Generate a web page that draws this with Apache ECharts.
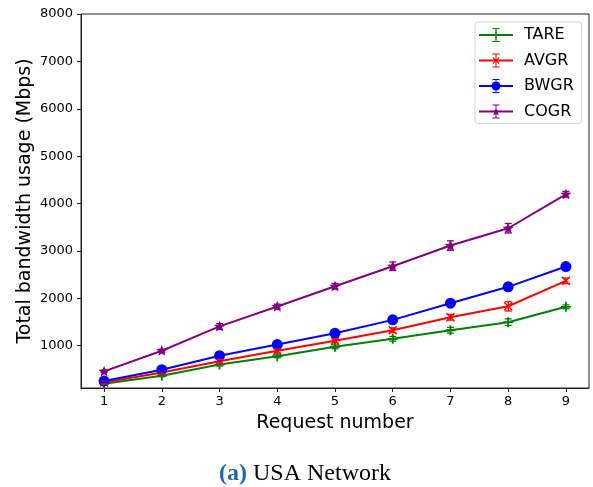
<!DOCTYPE html>
<html>
<head>
<meta charset="utf-8">
<script src="https://cdn.jsdelivr.net/npm/echarts@6/dist/echarts.min.js"></script>
<style>
  html, body { margin: 0; padding: 0; background: #fff; }
  #chart { width: 593px; height: 487px; }
</style>
</head>
<body>
<div id="chart"></div>
<script>
// Request numbers on the x axis
const requests = [1, 2, 3, 4, 5, 6, 7, 8, 9];

// Mean total bandwidth usage (Mbps) per algorithm
const tare = [200, 367, 603, 778, 977, 1146, 1327, 1496, 1821];
const avgr = [225, 437, 673, 892, 1103, 1327, 1601, 1833, 2369];
const bwgr = [255, 495, 789, 1025, 1264, 1546, 1897, 2243, 2671];
const cogr = [460, 895, 1408, 1827, 2255, 2677, 3114, 3479, 4196];

// Half-widths of the error bars (Mbps)
const tareErr = [20, 20, 30, 30, 40, 50, 60, 70, 40];
const avgrErr = [30, 30, 40, 40, 40, 50, 60, 100, 60];
const bwgrErr = [30, 30, 40, 40, 40, 40, 50, 80, 50];
const cogrErr = [20, 30, 60, 50, 60, 90, 100, 100, 60];

// Tick labels
const yTicks = [1000, 2000, 3000, 4000, 5000, 6000, 7000, 8000];
const xTicks = [1, 2, 3, 4, 5, 6, 7, 8, 9];

const FONT = 'DejaVu Sans';

// Marker shapes (filled paths)
function starPath(cx, cy, ro, ri) {
  let d = '';
  for (let i = 0; i < 10; i++) {
    const r = i % 2 === 0 ? ro : ri;
    const a = -Math.PI / 2 + i * Math.PI / 5;
    const x = (cx + r * Math.cos(a)).toFixed(3);
    const y = (cy + r * Math.sin(a)).toFixed(3);
    d += (i === 0 ? 'M' : 'L') + x + ' ' + y + ' ';
  }
  return d + 'Z';
}
const plusMarker = 'path://M0 4.1H10V5.9H0Z M4.1 0H5.9V10H4.1Z';
const crossMarker = 'path://M0 1.1L1.1 0L10 8.9L8.9 10Z M8.9 0L10 1.1L1.1 10L0 8.9Z';
const starMarker = 'path://' + starPath(5, 5.26, 5, 2.1) + ' M0 0H0.001V0.001Z M10 10H10.001V10.001Z';

// Legend icons: line + error bar + marker, drawn in a 34x14 box
const base = 'M0 6.1H34V7.9H0Z M16.5 0H17.5V14H16.5Z M13.5 0H20.5V1H13.5Z M13.5 13H20.5V14H13.5Z ';
const iconPlus = 'path://' + base + 'M12.5 6.2H21.5V7.8H12.5Z M16.2 2.5H17.8V11.5H16.2Z';
const iconCross = 'path://' + base + 'M13.5 4.2L14.2 3.5L20.5 9.8L19.8 10.5Z M19.8 3.5L20.5 4.2L14.2 10.5L13.5 9.8Z';
const iconCircle = 'path://' + base + 'M21.5 7A4.5 4.5 0 1 1 12.5 7A4.5 4.5 0 1 1 21.5 7Z';
const iconStar = 'path://' + base + starPath(17, 7.3, 4.6, 1.9);

const palette = {
  TARE: '#008000',
  AVGR: '#ff0000',
  BWGR: '#0000ff',
  COGR: '#800080'
};

function lineSeries(name, values, symbol, size) {
  return {
    name: name,
    type: 'line',
    data: requests.map((r, i) => [r, values[i]]),
    symbol: symbol,
    symbolSize: size,
    showAllSymbol: true,
    lineStyle: { color: palette[name], width: 2 },
    itemStyle: { color: palette[name] },
    z: 3
  };
}

function errorSeries(name, values, errs) {
  return {
    name: name + ' error',
    type: 'custom',
    data: requests.map((r, i) => [r, values[i] - errs[i], values[i] + errs[i]]),
    encode: { x: 0, y: [1, 2] },
    z: 4,
    silent: true,
    renderItem: function (params, api) {
      const x = api.value(0);
      const lo = api.coord([x, api.value(1)]);
      const hi = api.coord([x, api.value(2)]);
      const cap = 3.5;
      const style = { stroke: palette[name], lineWidth: 1.3 };
      return {
        type: 'group',
        children: [
          { type: 'line', shape: { x1: lo[0], y1: lo[1], x2: hi[0], y2: hi[1] }, style: style },
          { type: 'line', shape: { x1: lo[0] - cap, y1: lo[1], x2: lo[0] + cap, y2: lo[1] }, style: style },
          { type: 'line', shape: { x1: hi[0] - cap, y1: hi[1], x2: hi[0] + cap, y2: hi[1] }, style: style }
        ]
      };
    }
  };
}

const chart = echarts.init(document.getElementById('chart'), null, { renderer: 'canvas' });

chart.setOption({
  animation: false,
  backgroundColor: '#fff',
  textStyle: { fontFamily: FONT },
  grid: {
    left: 81, right: 4, top: 14, bottom: 99,
    show: true, borderColor: '#222', borderWidth: 1, backgroundColor: 'transparent'
  },
  xAxis: {
    type: 'value',
    min: 0.6,
    max: 9.4,
    name: 'Request number',
    nameLocation: 'middle',
    nameGap: 26,
    nameMoveOverlap: false,
    nameTextStyle: { fontFamily: FONT, fontSize: 19, color: '#000' },
    axisLine: { show: true, lineStyle: { color: '#222', width: 1 } },
    axisTick: { show: true, inside: false, length: 4, lineStyle: { color: '#222' }, customValues: xTicks },
    axisLabel: { fontFamily: FONT, fontSize: 13, color: '#000', margin: 7, customValues: xTicks },
    splitLine: { show: false }
  },
  yAxis: {
    type: 'value',
    min: 108,
    max: 8000,
    name: 'Total bandwidth usage (Mbps)',
    nameLocation: 'middle',
    nameGap: 46,
    nameMoveOverlap: false,
    nameTextStyle: { fontFamily: FONT, fontSize: 19, color: '#000' },
    axisLine: { show: true, lineStyle: { color: '#222', width: 1 } },
    axisTick: { show: true, inside: false, length: 4, lineStyle: { color: '#222' }, customValues: yTicks },
    axisLabel: {
      fontFamily: FONT, fontSize: 13, color: '#000', margin: 8, customValues: yTicks,
      formatter: function (v) { return String(v); }
    },
    splitLine: { show: false }
  },
  legend: {
    left: 475,
    top: 22,
    orient: 'vertical',
    backgroundColor: '#fff',
    borderColor: '#d0d0d0',
    borderWidth: 1,
    borderRadius: 3,
    padding: [5, 8, 4, 4],
    itemWidth: 34,
    itemHeight: 14,
    itemGap: 9.5,
    symbolKeepAspect: false,
    textStyle: { fontFamily: FONT, fontSize: 16, color: '#000', padding: [0, 0, 0, 6] },
    selectedMode: false,
    data: [
      { name: 'TARE', icon: iconPlus, itemStyle: { color: palette.TARE, borderWidth: 0 } },
      { name: 'AVGR', icon: iconCross, itemStyle: { color: palette.AVGR, borderWidth: 0 } },
      { name: 'BWGR', icon: iconCircle, itemStyle: { color: palette.BWGR, borderWidth: 0 } },
      { name: 'COGR', icon: iconStar, itemStyle: { color: palette.COGR, borderWidth: 0 } }
    ]
  },
  graphic: [
    {
      type: 'text',
      left: 219,
      top: 462,
      style: {
        text: '{a|(a)} USA Network',
        font: '24px "Liberation Serif"',
        fill: '#000',
        rich: {
          a: { fontFamily: 'Liberation Serif', fontSize: 24, fontWeight: 'bold', fill: '#1f66a8' }
        }
      }
    }
  ],
  series: [
    lineSeries('TARE', tare, plusMarker, 10),
    lineSeries('AVGR', avgr, crossMarker, 9),
    lineSeries('BWGR', bwgr, 'circle', 11),
    lineSeries('COGR', cogr, starMarker, 12),
    errorSeries('TARE', tare, tareErr),
    errorSeries('AVGR', avgr, avgrErr),
    errorSeries('BWGR', bwgr, bwgrErr),
    errorSeries('COGR', cogr, cogrErr)
  ]
});
</script>
</body>
</html>
